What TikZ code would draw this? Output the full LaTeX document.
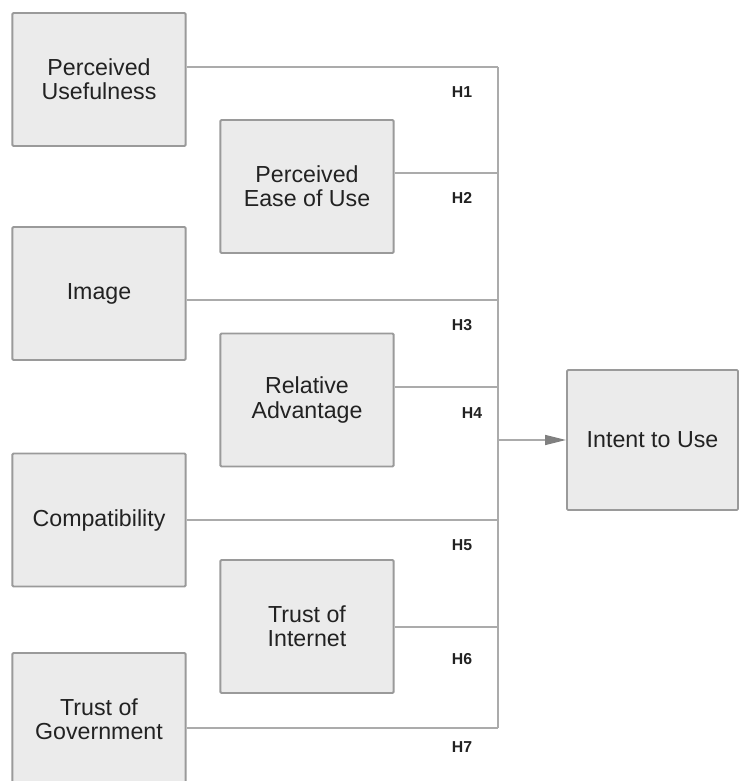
\documentclass[tikz,border=0pt]{standalone}
\usepackage{fontspec}
\setmainfont{Liberation Sans}
\usetikzlibrary{arrows.meta}
\definecolor{boxfill}{HTML}{EBEBEB}
\definecolor{boxline}{HTML}{9A9A9A}
\definecolor{wire}{HTML}{ABABAB}
\definecolor{tip}{HTML}{808080}
\definecolor{ink}{HTML}{222222}
\tikzset{
  construct/.style={draw=boxline, line width=1.6pt, fill=boxfill, rounded corners=1pt,
    minimum width=5.2cm, minimum height=3.99cm, align=center, text=ink,
    font=\fontsize{19.8}{20.5}\selectfont, inner sep=0pt},
  hyp/.style={text=ink, font=\fontsize{13.5}{15}\selectfont\bfseries, inner sep=0pt},
  wire/.style={draw=wire, line width=1.2pt}
}
\begin{document}
\begin{tikzpicture}[x=0.03cm, y=-0.03cm]
      \useasboundingbox (0,0) rectangle (741,781);
      \clip (0,0) rectangle (741,781);
      \draw
        (99,79.5) node[construct] (pu){Perceived\\Usefulness}
        (307,186.5) node[construct] (peou){Perceived\\Ease of Use}
        (99,293.5) node[construct] (img){Image}
        (307,400) node[construct] (ra){Relative\\Advantage}
        (99,520) node[construct] (comp){Compatibility}
        (307,626.5) node[construct] (ti){Trust of\\Internet}
        (99,719.5) node[construct] (tg){Trust of\\Government}
        (652.5,440) node[construct, minimum width=5.13cm, minimum height=4.2cm] (itu){Intent to Use};
      \coordinate (b1) at (498,67);
      \coordinate (b2) at (498,173);
      \coordinate (b3) at (498,300);
      \coordinate (b4) at (498,387);
      \coordinate (b5) at (498,520);
      \coordinate (b6) at (498,627);
      \coordinate (b7) at (498,728);
      \coordinate (bus) at (498,440);
      \begin{scope}[wire]
        \draw (b1 -| pu.east) to (b1);
        \draw (b2 -| peou.east) to (b2);
        \draw (b3 -| img.east) to (b3);
        \draw (b4 -| ra.east) to (b4);
        \draw (b5 -| comp.east) to (b5);
        \draw (b6 -| ti.east) to (b6);
        \draw (b7 -| tg.east) to (b7);
        \draw (b1) to (b7);
        \draw[-{Triangle[length=21*0.03cm, width=10*0.03cm, color=tip]}] (bus) to (bus -| itu.west);
      \end{scope}
      \node[hyp] (h1) at (462,92) {H1};
      \node[hyp] (h2) at (462,198) {H2};
      \node[hyp] (h3) at (462,325) {H3};
      \node[hyp] (h4) at (472,413) {H4};
      \node[hyp] (h5) at (462,545) {H5};
      \node[hyp] (h6) at (462,659) {H6};
      \node[hyp] (h7) at (462,747) {H7};
    \end{tikzpicture}
\end{document}
